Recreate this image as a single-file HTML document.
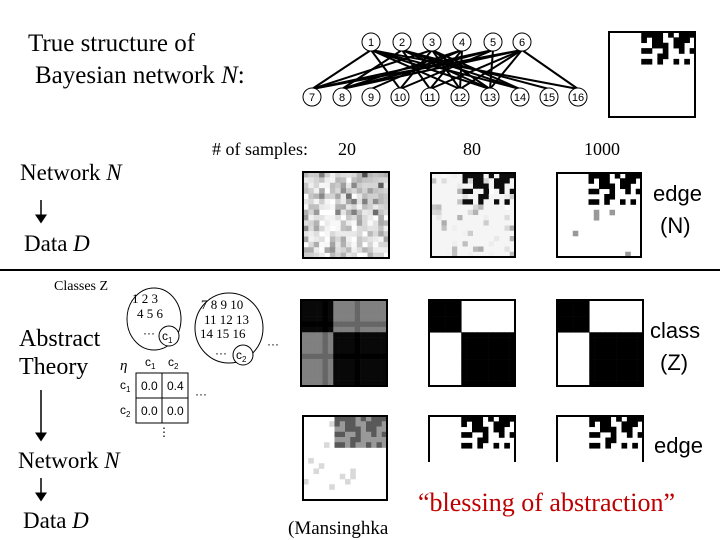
<!DOCTYPE html>
<html><head><meta charset="utf-8"><style>
html,body{margin:0;padding:0;background:#fff;width:720px;height:540px;overflow:hidden}
svg{display:block}
.s{font-family:"Liberation Serif",serif}
.a{font-family:"Liberation Sans",sans-serif}
</style></head><body>
<svg id="sv" width="720" height="540" viewBox="0 0 720 540" xmlns="http://www.w3.org/2000/svg">
<defs><marker id="ar" markerWidth="6" markerHeight="8" refX="5" refY="4" orient="auto"><path d="M0,0 L6,4 L0,8z" fill="#000"/></marker></defs>
<g class="s" fill="#000">
<text x="28" y="51" font-size="25">True structure of</text>
<text x="35" y="83" font-size="25">Bayesian network <tspan font-style="italic">N</tspan>:</text>
<text x="212" y="155" font-size="18"># of samples:</text>
<text x="338" y="155" font-size="18">20</text>
<text x="463" y="155" font-size="18">80</text>
<text x="584" y="155" font-size="18">1000</text>
<text x="20" y="180" font-size="23">Network <tspan font-style="italic">N</tspan></text>
<text x="24" y="251" font-size="23">Data <tspan font-style="italic">D</tspan></text>
<text x="54" y="290" font-size="14">Classes Z</text>
<text x="19" y="346" font-size="24">Abstract</text>
<text x="19" y="374" font-size="24">Theory</text>
<text x="18" y="468" font-size="23">Network <tspan font-style="italic">N</tspan></text>
<text x="23" y="528" font-size="23">Data <tspan font-style="italic">D</tspan></text>
<text x="288" y="534" font-size="19">(Mansinghka</text>
<text x="418" y="511" font-size="26" fill="#c00000">“blessing of abstraction”</text>
</g>
<g class="a" font-size="22">
<text x="653" y="201">edge</text><text x="660" y="233">(N)</text>
<text x="650" y="338">class</text><text x="660" y="370">(Z)</text>
<text x="654" y="453">edge</text>
</g>
<line x1="0" y1="270" x2="720" y2="270" stroke="#000" stroke-width="2"/>
<g stroke="#000" stroke-width="1.5" marker-end="url(#ar)">
<line x1="41" y1="200" x2="41" y2="222"/>
<line x1="41" y1="390" x2="41" y2="440"/>
<line x1="41" y1="478" x2="41" y2="500"/>
</g>
<g id="net" stroke="#000" stroke-width="2"></g>
<g id="nodes" class="a" font-size="11"></g>
<g id="mats"></g>
<g fill="none" stroke="#000" stroke-width="1">
<ellipse cx="154" cy="319" rx="27" ry="31"/>
<circle cx="169" cy="336" r="10" fill="#fff"/>
<ellipse cx="229" cy="328" rx="34" ry="35"/>
<circle cx="243" cy="355" r="10" fill="#fff"/>
<rect x="136" y="373" width="52" height="50"/>
<line x1="162" y1="373" x2="162" y2="423"/>
<line x1="136" y1="398" x2="188" y2="398"/>
</g>
<g class="s" font-size="13">
<text x="132" y="303">1 2 3</text><text x="137" y="318">4 5 6</text>
<text x="201" y="309">7 8 9 10</text><text x="204" y="324">11 12 13</text><text x="200" y="338">14 15 16</text>
<text x="120" y="370" font-style="italic" font-size="15">η</text>
</g>
<g class="a" font-size="12">
<text x="143" y="337">···</text><text x="162" y="340">c<tspan font-size="8" dy="3">1</tspan></text>
<text x="215" y="357">···</text><text x="236" y="359">c<tspan font-size="8" dy="3">2</tspan></text>
<text x="267" y="348">···</text>
<text x="145" y="366">c<tspan font-size="8" dy="3">1</tspan></text><text x="168" y="366">c<tspan font-size="8" dy="3">2</tspan></text>
<text x="120" y="389">c<tspan font-size="8" dy="3">1</tspan></text><text x="120" y="414">c<tspan font-size="8" dy="3">2</tspan></text>
<text x="141" y="390">0.0</text><text x="167" y="390">0.4</text>
<text x="141" y="415">0.0</text><text x="167" y="415">0.0</text>
<text x="195" y="398">···</text>
<text x="158" y="436">⋮</text>
</g>
</svg>
<script>
(function(){
var NS="http://www.w3.org/2000/svg";
function el(p,t,a){var e=document.createElementNS(NS,t);for(var k in a)e.setAttribute(k,a[k]);p.appendChild(e);return e;}
var tx=[371,402,432,462,493,522],bx=[312,342,371,400,430,460,490,520,549,578];
var edges=[[0,0],[0,3],[0,5],[0,7],[0,9],[1,1],[1,4],[1,6],[1,8],[2,0],[2,5],[2,6],[2,7],[3,1],[3,2],[3,4],[3,5],[4,0],[4,1],[4,3],[4,6],[5,0],[5,1],[5,4],[5,5],[5,6],[5,9],[1,7],[2,3],[0,6]];
var net=document.getElementById('net');
edges.forEach(function(e){el(net,'line',{x1:tx[e[0]],y1:50,x2:bx[e[1]],y2:89});});
var nd=document.getElementById('nodes');
tx.forEach(function(x,i){el(nd,'circle',{cx:x,cy:42,r:9,fill:'#fff',stroke:'#000','stroke-width':1});var t=el(nd,'text',{x:x,y:46,'text-anchor':'middle'});t.textContent=i+1;});
bx.forEach(function(x,i){el(nd,'circle',{cx:x,cy:97,r:9,fill:'#fff',stroke:'#000','stroke-width':1});var t=el(nd,'text',{x:x,y:101,'text-anchor':'middle'});t.textContent=i+7;});
var seed=11;function rnd(){seed=(seed*16807)%2147483647;return seed/2147483647;}
var truth=[];for(var r=0;r<16;r++){truth.push([]);for(var c=0;c<16;c++)truth[r].push(r<6&&c>=6&&rnd()<0.5?1:0);}
var m=document.getElementById('mats');
function grid(x,y,w,h,rows,f,border){var cs=w/16;
 el(m,'rect',{x:x,y:y,width:w,height:h,fill:'#fff'});
 for(var r=0;r<rows;r++)for(var c=0;c<16;c++){var v=f(r,c);if(v>0.02){var g=Math.round(255*(1-v));el(m,'rect',{x:x+c*cs,y:y+r*cs,width:cs+0.3,height:cs+0.3,fill:'rgb('+g+','+g+','+g+')'});}}
 if(border==='open')el(m,'path',{d:'M'+x+','+(y+h)+' V'+y+' H'+(x+w)+' V'+(y+h),fill:'none',stroke:'#000','stroke-width':2});
 else el(m,'rect',{x:x,y:y,width:w,height:h,fill:'none',stroke:'#000','stroke-width':2});}
grid(609,32,86,85,16,function(r,c){return truth[r][c];});
grid(303,172,86,86,16,function(r,c){var v=rnd()*rnd()*0.55;if(r<8&&c>=6)v+=rnd()*0.2;return v;});
grid(431,173,84,84,16,function(r,c){if(truth[r][c])return 0.95;var p=rnd();return p<0.25?rnd()*0.35:0.04;});
grid(557,173,84,84,16,function(r,c){if(truth[r][c])return 1;return rnd()<0.03?0.4:0.02;});
grid(301,300,86,86,16,function(r,c){var a=r<6,b=c<6;var base=(a!==b)?0.5:0.97;if(r==4||r==10||c==4||c==10)base=Math.min(1,base+0.1);return base;});
grid(429,300,86,86,16,function(r,c){return (r<6)==(c<6)?1:0;});
grid(557,300,86,86,16,function(r,c){return (r<6)==(c<6)?1:0;});
grid(303,416,84,84,16,function(r,c){if(r<6&&c>=6)return truth[r][c]?0.65:0.4;return rnd()<0.08?0.15:0.02;});
grid(429,416,86,46,8,function(r,c){return (r<6&&c>=6&&truth[r][c])?1:0;},'open');
grid(557,416,86,46,8,function(r,c){return (r<6&&c>=6&&truth[r][c])?1:0;},'open');
})();
</script>
</body></html>
